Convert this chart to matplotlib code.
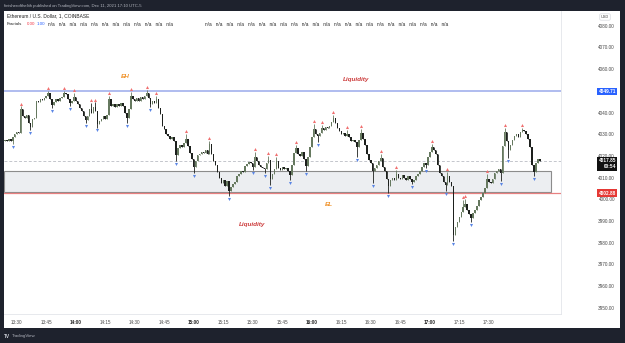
import numpy as np
import matplotlib.pyplot as plt
from matplotlib.patches import Rectangle
from matplotlib import transforms

plt.rcParams['font.family'] = ['Liberation Sans', 'DejaVu Sans']

# ETH/USD 1-minute closes, first candle = 13:24 (index 0)
first_open = 4027.0
closes = [
    4027.5, 4027.0, 4027.8, 4026.8, 4028.5, 4030.2, 4031.0, 4030.5, 4041.5, 4038.5,
    4037.5, 4038.8, 4035.0, 4033.5, 4036.8, 4037.5, 4045.5, 4045.0, 4046.2, 4045.8,
    4046.8, 4047.5, 4049.0, 4046.2, 4043.5, 4044.8, 4046.0, 4045.5, 4046.8, 4047.2,
    4049.0, 4048.5, 4046.0, 4044.2, 4045.5, 4047.0, 4045.5, 4044.0, 4042.0, 4040.5,
    4038.5, 4036.5, 4038.2, 4041.5, 4040.0, 4042.5, 4040.5, 4034.5, 4036.0, 4037.0,
    4038.5, 4037.2, 4039.0, 4046.2, 4043.0, 4044.0, 4042.5, 4043.8, 4043.0, 4044.2,
    4042.8, 4040.0, 4037.5, 4041.5, 4047.5, 4046.0, 4045.2, 4046.8, 4045.5, 4047.0,
    4046.2, 4047.8, 4049.2, 4046.5, 4043.8, 4045.2, 4044.5, 4046.0, 4042.0, 4039.5,
    4034.0, 4032.5, 4030.0, 4029.2, 4028.0, 4028.8, 4027.0, 4020.5, 4023.5, 4025.0,
    4024.2, 4026.0, 4028.0, 4024.5, 4021.5, 4018.5, 4015.0, 4017.5, 4020.5, 4021.0,
    4022.0, 4021.2, 4022.5, 4021.0, 4025.5, 4021.0, 4017.5, 4016.0, 4012.5, 4010.0,
    4007.5, 4009.0, 4006.0, 4008.5, 4004.0, 4005.5, 4007.0, 4008.0, 4010.5, 4011.5,
    4013.0, 4012.5, 4015.5, 4016.2, 4017.0, 4016.5, 4015.0, 4019.5, 4017.5, 4016.0,
    4015.0, 4014.5, 4014.0, 4016.5, 4018.0, 4009.5, 4011.5, 4014.0, 4017.5, 4014.5,
    4013.5, 4015.0, 4013.8, 4014.5, 4013.0, 4011.0, 4016.0, 4021.5, 4023.5, 4021.0,
    4020.0, 4022.0, 4018.5, 4015.5, 4019.5, 4024.0, 4028.5, 4032.5, 4030.0, 4029.0,
    4030.5, 4033.0, 4032.0, 4033.5, 4033.0, 4034.0, 4035.5, 4037.5, 4035.0, 4033.0,
    4031.5, 4030.0, 4030.5, 4029.0, 4030.0, 4028.5, 4027.0, 4027.5, 4026.5, 4024.0,
    4027.5, 4030.5, 4028.0, 4025.0, 4021.0, 4018.0, 4016.5, 4013.0, 4014.5, 4016.0,
    4017.5, 4019.0, 4015.0, 4013.0, 4009.5, 4006.0, 4009.0, 4010.0, 4009.0, 4011.5,
    4010.0, 4009.5, 4011.0, 4010.0, 4009.0, 4010.5, 4009.5, 4008.0, 4009.0, 4010.5,
    4011.5, 4013.0, 4015.0, 4016.5, 4016.0, 4019.5, 4022.0, 4024.0, 4022.5, 4021.0,
    4016.0, 4012.0, 4010.5, 4008.0, 4006.5, 4010.5, 4008.0, 4006.0, 3983.5, 3987.0,
    3989.5, 3992.0, 3994.0, 3996.5, 3998.0, 3995.0, 3993.0, 3991.5, 3993.5, 3995.0,
    3997.0, 3999.5, 4001.0, 4003.0, 4005.0, 4009.5, 4008.0, 4007.5, 4009.5, 4012.0,
    4013.0, 4014.0, 4012.0, 4024.5, 4031.0, 4027.0, 4022.5, 4025.0, 4027.5, 4029.0,
    4030.0, 4028.5, 4031.0, 4032.0, 4031.5, 4030.0, 4028.0, 4024.0, 4016.0, 4012.5,
    4016.5, 4018.5, 4017.85,
]

# Williams fractals (candle index, wick price)
fractal_high_idx = [8, 22, 30, 35, 44, 46, 53, 64, 72, 77, 92, 104, 127, 134, 138,
                    148, 157, 161, 167, 174, 181, 191, 199, 217, 225, 233, 234, 245, 254, 263]
fractal_high_val = [4042.8, 4050.0, 4050.0, 4049.0, 4044.5, 4044.7, 4047.6, 4049.4, 4050.5,
                    4047.6, 4030.0, 4026.8, 4021.8, 4020.0, 4019.5, 4025.0, 4034.7, 4034.3,
                    4039.0, 4032.0, 4032.4, 4021.0, 4013.5, 4025.6, 4012.5, 3999.6, 4000.1,
                    4011.6, 4032.8, 4033.0]
fractal_low_idx = [4, 13, 24, 33, 41, 47, 62, 74, 87, 96, 114, 126, 132, 135, 145, 153,
                   159, 179, 187, 195, 207, 214, 224, 228, 237, 252, 256, 269]
fractal_low_val = [4025.5, 4032.0, 4042.0, 4043.0, 4035.0, 4033.0, 4035.0, 4042.5, 4017.6,
                   4012.0, 4001.5, 4013.5, 4012.0, 4006.6, 4009.0, 4013.0, 4026.5, 4019.5,
                   4007.5, 4003.0, 4007.0, 4014.4, 4003.8, 3980.7, 3989.5, 4008.5, 4019.0, 4010.7]

time_labels = ["13:30", "13:45", "14:00", "14:15", "14:30", "14:45", "15:00", "15:15",
               "15:30", "15:45", "16:00", "16:15", "16:30", "16:45", "17:00", "17:15", "17:30"]
time_ticks = [6, 21, 36, 51, 66, 81, 96, 111, 126, 141, 156, 171, 186, 201, 216, 231, 246]
price_ticks = [3950, 3960, 3970, 3980, 3990, 4000, 4010, 4020, 4030, 4040, 4050, 4060, 4070, 4080]

high_level = 4049.71
low_level = 4002.88
last_price = 4017.85
box_top = 4013.0
box_bottom = 4003.5
box_end = 277.6

notes = [("EH", 61, 4056.8, "#f0932b"), ("Liquidity", 178.3, 4055.4, "#cc3a3a"),
         ("EL", 164.8, 3997.4, "#f0932b"), ("Liquidity", 125.6, 3988.2, "#cc3a3a")]

# ---- candles ----
c = np.array(closes)
o = np.array([first_open] + closes[:-1])
idx = np.arange(len(c))
hi = np.maximum(o, c)
lo = np.minimum(o, c)
hi[fractal_high_idx] = np.maximum(hi[fractal_high_idx], fractal_high_val)
lo[fractal_low_idx] = np.minimum(lo[fractal_low_idx], fractal_low_val)
up = c >= o
col = np.where(up, "#66795f", "#1d201d")

W, H = 625, 343
fig = plt.figure(figsize=(W / 100, H / 100), dpi=100, facecolor="#1e222d")
fig.patches.append(Rectangle((4 / W, 1 - 328 / H), 616 / W, 317 / H, transform=fig.transFigure,
                             facecolor="white", edgecolor="none", zorder=-5))

ax = fig.add_axes([4 / W, 1 - 314 / H, 557 / W, 303 / H])
ax.set_facecolor("white")
ax.set_xlim(-0.46, 282.7)
ax.set_ylim(3947.1, 4086.8)

ax.add_patch(Rectangle((-0.46, box_bottom), box_end + 0.46, box_top - box_bottom,
                       facecolor="#eceef1", edgecolor="#8c8c8c", lw=0.8, zorder=1))
ax.axhline(high_level, color="#a9b6ee", lw=1.3, zorder=2)
ax.axhline(low_level, color="#e88080", lw=0.9, zorder=2)
ax.axhline(last_price, color="#c4c6cc", lw=0.7, ls=(0, (3, 2)), zorder=2)

ax.vlines(idx, lo, hi, colors=col, lw=0.6, zorder=3)
ax.bar(idx, np.maximum(np.abs(c - o), 0.3), bottom=np.minimum(o, c), width=0.75,
       color=col, linewidth=0, zorder=4)

t_up = transforms.offset_copy(ax.transData, fig=fig, x=0, y=2.0, units="points")
t_dn = transforms.offset_copy(ax.transData, fig=fig, x=0, y=-2.0, units="points")
ax.plot(fractal_high_idx, fractal_high_val, ls="none", marker="^", ms=2.2, mew=0,
        color="#f07070", transform=t_up, zorder=5)
ax.plot(fractal_low_idx, fractal_low_val, ls="none", marker="v", ms=2.2, mew=0,
        color="#5b86e5", transform=t_dn, zorder=5)

for txt, x, y, clr in notes:
    ax.text(x, y, txt, color=clr, fontsize=4.6, fontweight="bold", fontstyle="italic",
            ha="center", va="center", zorder=6)

# axes
for s in ["left", "top"]:
    ax.spines[s].set_visible(False)
for s in ["right", "bottom"]:
    ax.spines[s].set_color("#e3e5ea")
    ax.spines[s].set_linewidth(0.6)
ax.yaxis.tick_right()
ax.set_yticks(price_ticks)
ax.set_yticklabels([f"{p:.2f}" for p in price_ticks])
ax.tick_params(axis="y", length=0, pad=38.9, labelsize=3.4, labelcolor="#4a4a4a")
for lab in ax.get_yticklabels():
    lab.set_horizontalalignment("right")
ax.set_xticks(time_ticks)
ax.set_xticklabels(time_labels)
ax.tick_params(axis="x", length=0, pad=4.5, labelsize=3.3, labelcolor="#4a4a4a")
for lab in ax.get_xticklabels():
    if lab.get_text().endswith(":00"):
        lab.set_fontweight("bold")
        lab.set_color("#222222")

# price tags
tr = transforms.blended_transform_factory(ax.transAxes, ax.transData)
tx = (616 - 4) / 557
ax.text(tx, high_level, f"{high_level:.2f}", transform=tr, ha="right", va="center", fontsize=3.4,
        color="white", fontweight="bold", clip_on=False, zorder=7,
        bbox=dict(boxstyle="square,pad=0.3", fc="#2962ff", ec="none"))
ax.text(tx, low_level, f"{low_level:.2f}", transform=tr, ha="right", va="center", fontsize=3.4,
        color="white", fontweight="bold", clip_on=False, zorder=7,
        bbox=dict(boxstyle="square,pad=0.3", fc="#e53935", ec="none"))
ax.text(tx, last_price + 1.1, f"{last_price:.2f}\n00:54", transform=tr, ha="right", va="top",
        fontsize=3.4, color="white", fontweight="bold", linespacing=1.25, clip_on=False, zorder=7,
        bbox=dict(boxstyle="square,pad=0.3", fc="#111111", ec="none"))

# header / legend / footer
def px(x, y):
    return x / W, 1 - y / H

fig.text(*px(4, 5.5), "finisherofthelith published on TradingView.com, Dec 11, 2021 17:10 UTC-5",
         fontsize=3.1, color="#b2b5be", va="center")
fig.text(*px(7, 16), "Ethereum / U.S. Dollar, 1, COINBASE", fontsize=3.5, color="#222", va="center")
fig.text(*px(7, 24), "Fractals", fontsize=3.2, color="#222", va="center")
fig.text(*px(27, 24), "0.00", fontsize=3.2, color="#f23645", va="center")
fig.text(*px(37, 24), "1.00", fontsize=3.2, color="#2962ff", va="center")
fig.text(*px(48, 24), "   ".join(["n/a"] * 12), fontsize=3.4, color="#222", va="center")
fig.text(*px(205, 24), "   ".join(["n/a"] * 23), fontsize=3.4, color="#222", va="center")
fig.text(*px(605, 17), "USD", fontsize=2.8, color="#444", ha="center", va="center",
         bbox=dict(boxstyle="round,pad=0.3", fc="white", ec="#cfd2d8", lw=0.4))
fig.text(*px(4, 336), "TV", fontsize=3.4, color="#d1d4dc", fontweight="bold", va="center")
fig.text(*px(12, 336), "TradingView", fontsize=3.2, color="#b2b5be", va="center")

fig.savefig("out.png", dpi=100, facecolor=fig.get_facecolor())
